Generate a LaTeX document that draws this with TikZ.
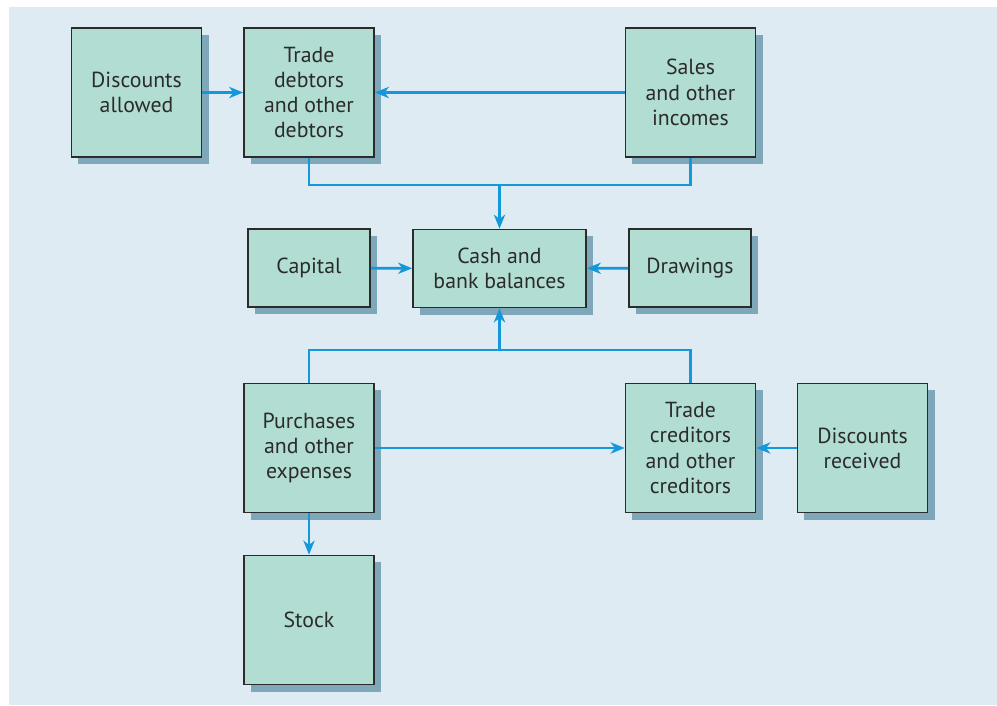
\documentclass[tikz,border=0pt]{standalone}
\usepackage{fontspec}
\setmainfont{PT Sans}
\usepackage{tikz}
\usetikzlibrary{arrows.meta, shadows, positioning}
\definecolor{bgblue}{HTML}{DFEBF3}
\definecolor{boxgreen}{HTML}{B2DDD3}
\definecolor{boxshadow}{HTML}{7FA7BA}
\definecolor{flowblue}{HTML}{1398DB}
\definecolor{inkgray}{HTML}{2B2B2B}
\tikzstyle{bigbox} = [rectangle, draw=inkgray, line width=1.1pt, fill=boxgreen, text=inkgray, align=center,
  minimum width=3.25cm, minimum height=3.225cm, inner sep=0pt,
  font=\fontsize{15.5}{17.9}\selectfont,
  drop shadow={shadow xshift=0.175cm, shadow yshift=-0.175cm, fill=boxshadow, opacity=1}]
\tikzstyle{flatbox} = [bigbox, minimum width=3.05cm, minimum height=1.95cm]
\tikzstyle{line} = [draw=flowblue, line width=1.9pt]
\tikzstyle{arrow} = [line, -{Stealth[length=10pt, width=8pt, inset=3pt]}]

\begin{document}
\begin{tikzpicture}[x=0.025cm, y=-0.025cm]
			\useasboundingbox (0, 0) rectangle (997, 705);
			\fill [bgblue] (9, 7) rectangle (997, 705);

			\node [bigbox] (disall) at (136.5, 92.5) {Discounts\\allowed};
			\node [bigbox] (trdeb) at (309, 92.5) {Trade\\debtors\\and other\\debtors};
			\node [bigbox] (sales) at (690.5, 92.5) {Sales\\and other\\incomes};
			\node [flatbox] (capital) at (309, 268) {Capital};
			\node [flatbox, minimum width=4.325cm] (cash) at (499.5, 268.5) {Cash and\\bank balances};
			\node [flatbox] (drawings) at (690, 268) {Drawings};
			\node [bigbox] (purch) at (309, 448) {Purchases\\and other\\expenses};
			\node [bigbox] (trcred) at (690.5, 448) {Trade\\creditors\\and other\\creditors};
			\node [bigbox] (disrec) at (862.5, 448) {Discounts\\received};
			\node [bigbox] (stock) at (309, 620) {Stock};
			\coordinate (topjoin) at (499.5, 185);
			\coordinate (botjoin) at (499.5, 350);

			\path [arrow] (disall) -- (trdeb);
			\path [arrow] (sales) -- (trdeb);
			\path [line] (trdeb.south) |- (topjoin) -| (sales.south);
			\path [arrow] (topjoin) -- (cash);
			\path [arrow] (capital) -- (cash);
			\path [arrow] (drawings) -- (cash);
			\path [line] (purch.north) |- (botjoin) -| (trcred.north);
			\path [arrow] (botjoin) -- (cash);
			\path [arrow] (purch) -- (trcred);
			\path [arrow] (disrec) -- (trcred);
			\path [arrow] (purch) -- (stock);
		\end{tikzpicture}
\end{document}
